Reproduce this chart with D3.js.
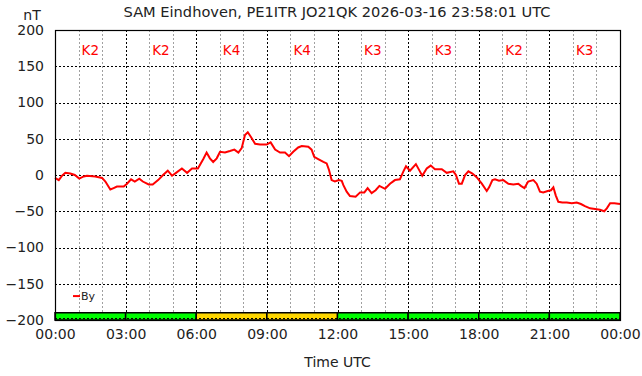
<!DOCTYPE html>
<html>
<head>
<meta charset="utf-8">
<script src="https://cdn.jsdelivr.net/npm/d3@7"></script>
<style>
body { margin: 0; background: #fff; }
svg text { font-family: "DejaVu Sans", sans-serif; fill: #222; }
</style>
</head>
<body>
<div id="chart-area"></div>
<script>
// By component, hours since 00:00 UTC and nT
var hours = [0, 0.16, 0.30, 0.44, 0.65, 0.84, 1.03, 1.22, 1.36, 1.71, 2.00, 2.14, 2.35, 2.49, 2.63, 2.92,
    3.06, 3.23, 3.39, 3.58, 3.73, 3.98, 4.15, 4.38, 4.59, 4.79, 4.97, 5.14, 5.39, 5.61, 5.82, 6.07,
    6.30, 6.44, 6.58, 6.72, 6.87, 7.01, 7.22, 7.43, 7.62, 7.79, 7.93, 8.07, 8.19, 8.33, 8.50, 8.71,
    8.99, 9.16, 9.35, 9.56, 9.77, 9.94, 10.12, 10.33, 10.48, 10.76, 10.90, 11.01, 11.18, 11.40, 11.54,
    11.64, 11.75, 11.89, 12.06, 12.18, 12.25, 12.39, 12.53, 12.77, 12.96, 13.14, 13.28, 13.45, 13.62,
    13.78, 14.02, 14.23, 14.44, 14.65, 14.80, 14.91, 15.08, 15.33, 15.50, 15.60, 15.79, 15.96, 16.14,
    16.43, 16.64, 16.92, 17.03, 17.16, 17.28, 17.42, 17.56, 17.73, 17.91, 18.13, 18.34, 18.44, 18.58,
    18.69, 18.86, 19.04, 19.26, 19.47, 19.68, 19.79, 19.94, 20.10, 20.32, 20.46, 20.60, 20.74, 20.93,
    21.07, 21.17, 21.27, 21.38, 21.55, 21.74, 21.95, 22.16, 22.34, 22.51, 22.73, 22.94, 23.15, 23.33,
    23.44, 23.58, 23.76, 24.00]
var byValues = [-4, -7, -1, 3, 2, 0, -5, -2, -1, -2, -4, -9, -20, -18, -16, -16,
    -12, -6, -9, -5, -9, -13, -13, -7, 0, 6, -1, 3, 9, 3, 9, 9,
    22, 31, 23, 18, 23, 32, 31, 33, 35, 31, 37, 55, 59, 52, 43, 42,
    42, 45, 35, 31, 31, 26, 32, 38, 40, 39, 35, 25, 22, 18, 16,
    7, -7, -9, -7, -8, -14, -23, -29, -30, -24, -24, -18, -25, -21,
    -15, -19, -12, -7, -6, 5, 12, 6, 15, 5, -1, 9, 13, 8,
    8, 3, 5, 0, -12, -12, 0, 5, 2, -3, -12, -22, -17, -7,
    -6, -8, -7, -12, -13, -12, -15, -18, -9, -7, -12, -23, -24, -22,
    -21, -17, -28, -37, -38, -38, -39, -38, -40, -43, -46, -47, -48, -50,
    -46, -39, -39, -40]

// K index per 3 hour block
var kBlocks = [0, 3, 6, 9, 12, 15, 18, 21]
var kValues = [2, 2, 4, 4, 3, 3, 2, 3]

var yTicks = [-200, -150, -100, -50, 0, 50, 100, 150, 200]
var xTicks = [0, 3, 6, 9, 12, 15, 18, 21, 24]
var xMinor = [1, 2, 4, 5, 7, 8, 10, 11, 13, 14, 16, 17, 19, 20, 22, 23]

var title = "SAM Eindhoven, PE1ITR JO21QK 2026-03-16 23:58:01 UTC"

var margin = {"left": 55, "right": 22, "top": 30, "bottom": 56}
const WIDTH = 642, HEIGHT = 376
const GRAPH_WIDTH = WIDTH - margin.left - margin.right
const GRAPH_HEIGHT = HEIGHT - margin.top - margin.bottom

var svg = d3.select('#chart-area').append("svg")
    .attr("width", WIDTH)
    .attr("height", HEIGHT)

var g = svg.append("g")
    .attr("transform", "translate(" + margin.left + "," + margin.top + ")")

var xScale = d3.scaleLinear().domain([0, 24]).range([0, GRAPH_WIDTH])
var yScale = d3.scaleLinear().domain([-200, 200]).range([GRAPH_HEIGHT, 0])

// minor (hourly) grey grid
g.selectAll(".minor").data(xMinor).enter().append("line")
    .attr("x1", d => Math.round(xScale(d)) + 0.5)
    .attr("x2", d => Math.round(xScale(d)) + 0.5)
    .attr("y1", 0).attr("y2", GRAPH_HEIGHT)
    .attr("stroke", "#a0a0a0")
    .attr("stroke-dasharray", "2,2")

// major grid, black dotted
g.selectAll(".vmajor").data(xTicks.slice(1, -1)).enter().append("line")
    .attr("x1", d => Math.round(xScale(d)) + 0.5)
    .attr("x2", d => Math.round(xScale(d)) + 0.5)
    .attr("y1", 0).attr("y2", GRAPH_HEIGHT)
    .attr("stroke", "#000")
    .attr("stroke-dasharray", "2,2")

g.selectAll(".hmajor").data(yTicks.slice(1, -1)).enter().append("line")
    .attr("x1", 0).attr("x2", GRAPH_WIDTH)
    .attr("y1", d => Math.round(yScale(d)) + 0.5)
    .attr("y2", d => Math.round(yScale(d)) + 0.5)
    .attr("stroke", "#000")
    .attr("stroke-dasharray", "2,2")

// K index band at the bottom
var kColour = function(k) {
    if (k >= 4) return "#ffd700"
    return "#00ff00"
}
g.selectAll(".kbar").data(kBlocks).enter().append("rect")
    .attr("x", d => xScale(d))
    .attr("width", d => xScale(d + 3) - xScale(d))
    .attr("y", yScale(-190))
    .attr("height", yScale(-200) - yScale(-190))
    .attr("fill", (d, i) => kColour(kValues[i]))
    .attr("stroke", "#000")
    .attr("stroke-width", 1.5)
g.append("line")
    .attr("x1", 0).attr("x2", GRAPH_WIDTH)
    .attr("y1", GRAPH_HEIGHT - 1.5).attr("y2", GRAPH_HEIGHT - 1.5)
    .attr("stroke", "#000")
    .attr("stroke-dasharray", "2,2")

// K labels
g.selectAll(".klabel").data(kBlocks).enter().append("text")
    .attr("x", d => xScale(d + 1.5))
    .attr("y", 25)
    .attr("text-anchor", "middle")
    .attr("font-size", "13.5px")
    .style("fill", "#ff0000")
    .text((d, i) => "K" + kValues[i])

// By line
var line = d3.line()
    .x((d, i) => xScale(hours[i]))
    .y(d => yScale(d))
g.append("path")
    .datum(byValues)
    .attr("d", line)
    .attr("fill", "none")
    .attr("stroke", "#ff0000")
    .attr("stroke-width", 2)

// frame
g.append("rect")
    .attr("x", 0.5).attr("y", 0.5)
    .attr("width", GRAPH_WIDTH).attr("height", GRAPH_HEIGHT)
    .attr("fill", "none")
    .attr("stroke", "#000")
    .attr("stroke-width", 1.2)

// axes
var xAxisGroup = g.append("g")
    .attr("transform", "translate(0," + GRAPH_HEIGHT + ")")
    .call(d3.axisBottom(xScale).tickValues(xTicks).tickSize(0).tickPadding(9)
        .tickFormat(d => d3.format("02d")(d % 24 === 0 && d > 0 ? 0 : d) + ":00"))
var yAxisGroup = g.append("g")
    .call(d3.axisLeft(yScale).tickValues(yTicks).tickSize(0).tickPadding(11))
;[xAxisGroup, yAxisGroup].forEach(function(ax) {
    ax.select(".domain").remove()
    ax.selectAll("text").attr("font-size", "14px").attr("font-family", "DejaVu Sans")
})

// legend
var legend = g.append("g").attr("transform", "translate(18," + (yScale(-167)) + ")")
legend.append("line")
    .attr("x1", 0).attr("x2", 7).attr("y1", 0).attr("y2", 0)
    .attr("stroke", "#ff0000").attr("stroke-width", 2)
legend.append("text")
    .attr("x", 8).attr("y", 4)
    .attr("font-size", "11px")
    .text("By")

// titles
svg.append("text")
    .attr("x", 337).attr("y", 17)
    .attr("text-anchor", "middle")
    .attr("font-size", "14.6px")
    .text(title)
svg.append("text")
    .attr("x", 32).attr("y", 20)
    .attr("text-anchor", "middle")
    .attr("font-size", "14px")
    .text("nT")
svg.append("text")
    .attr("x", margin.left + GRAPH_WIDTH / 2).attr("y", 367)
    .attr("text-anchor", "middle")
    .attr("font-size", "14px")
    .text("Time UTC")
</script>
</body>
</html>
